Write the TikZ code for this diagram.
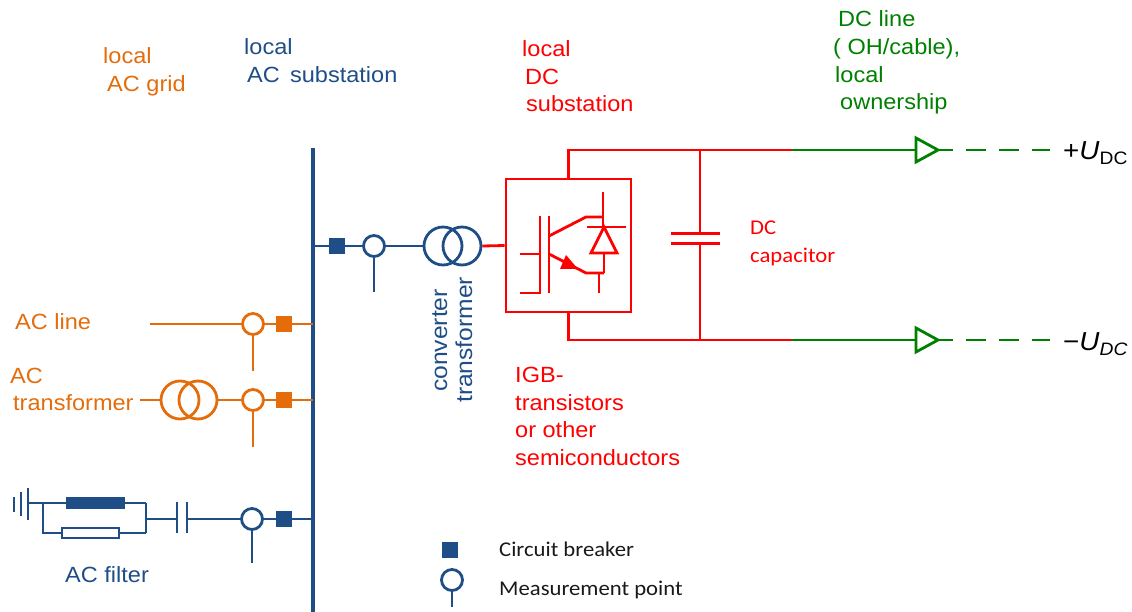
\documentclass[tikz,border=0pt]{standalone}
\usepackage{fontspec}
\setmainfont{Liberation Sans}[FakeStretch=1.07]
\newfontfamily\calfont{Carlito}[FakeStretch=1.08]
\definecolor{acblue}{RGB}{31,78,135}
\definecolor{acorange}{RGB}{228,108,10}
\definecolor{dcred}{RGB}{255,0,0}
\definecolor{dcgreen}{RGB}{0,128,0}
\begin{document}
\begin{tikzpicture}[x=1pt,y=-1pt,
  wire/.style={line width=2.8pt},
  cb/.style={rectangle, minimum size=16pt, inner sep=0pt, fill=#1, draw=none},
  meas/.style={circle, minimum size=21pt, inner sep=0pt, draw=#1, line width=2.8pt},
  trafo/.style={circle, minimum size=38pt, inner sep=0pt, draw=#1, line width=2.8pt},
  lbl/.style={inner sep=0pt, anchor=base west, font=\fontsize{22}{26}\selectfont},
  clbl/.style={inner sep=0pt, anchor=base west, font=\calfont\fontsize{21}{25}\selectfont},
  rlbl/.style={inner sep=0pt, anchor=base west, rotate=90, font=\fontsize{23}{27}\selectfont},
  ulbl/.style={inner sep=0pt, anchor=base west, font=\fontsize{26}{30}\selectfont}
]
\useasboundingbox (0,0) rectangle (1132,612);

% ---------- bus bar ----------
\coordinate (bt) at (313,148);
\coordinate (bb) at (313,612);
\draw[acblue, line width=4pt] (bt) -- (bb);

% ---------- converter branch ----------
\coordinate (b1) at (313,246);
\node[cb=acblue] (cb1) at (337,246) {};
\node[meas=acblue] (m1) at (374,246) {};
\coordinate (m1t) at (374,292);
\draw[wire, acblue] (b1) -- (cb1) -- (m1);
\draw[wire, acblue] (m1.south) -- (m1t);
\node[trafo=acblue] (t1a) at (443,246) {};
\node[trafo=acblue] (t1b) at (462,246) {};
\draw[wire, acblue] (m1) -- (t1a);

% converter box
\node[draw=dcred, wire, minimum width=125pt, minimum height=133pt, inner sep=0pt] (conv) at (568.5,245.5) {};
\draw[wire, dcred] (t1b.east) -- (conv.west);

% IGBT symbol
\begin{scope}[dcred, wire]
  \draw (520,254) -- (540,254);
  \draw (540,216) -- (540,293) -- (520,293);
  \draw (549,216) -- (549,293);
  \draw (549,236) -- (586,217) -- (603,217);
  \draw (603,192) -- (603,227);
  \draw (587,227) -- (626,227);
  \draw (604,227) -- (591,253) -- (617,253) -- cycle;
  \draw (604,253) -- (604,273);
  \draw (549,254) -- (586,273) -- (604,273);
  \draw (599,273) -- (599,293);
  \fill (566,255) -- (560,269) -- (578,269) -- cycle;
\end{scope}

% DC side
\coordinate (ptop) at (792,150);
\coordinate (pbot) at (792,340);
\coordinate (ctop) at (700,150);
\coordinate (cbot) at (700,340);
\coordinate (cp1) at (700,234);
\coordinate (cp2) at (700,244);
\draw[wire, dcred] (conv.north) |- (ptop);
\draw[wire, dcred] (conv.south) |- (pbot);
\draw[wire, dcred] (ctop) -- (cp1);
\draw[wire, dcred] (cp2) -- (cbot);
\draw[dcred, line width=3pt] (671,234) -- (720,234);
\draw[dcred, line width=3pt] (671,244) -- (720,244);

% DC line
\coordinate (g1) at (916,150);
\coordinate (g1t) at (938,150);
\coordinate (g1e) at (1050,150);
\coordinate (g2) at (916,340);
\coordinate (g2t) at (938,340);
\coordinate (g2e) at (1050,340);
\draw[wire, dcgreen] (ptop) -- (g1);
\draw[wire, dcgreen] (pbot) -- (g2);
\draw[wire, dcgreen] (916,138) -- (g1t) -- (916,162) -- cycle;
\draw[wire, dcgreen] (916,328) -- (g2t) -- (916,352) -- cycle;
\draw[wire, dcgreen, dash pattern=on 20pt off 13pt, dash phase=5pt] (g1t) -- (g1e);
\draw[wire, dcgreen, dash pattern=on 20pt off 13pt, dash phase=5pt] (g2t) -- (g2e);

% ---------- AC line ----------
\coordinate (acl) at (150,324);
\coordinate (b2) at (313,324);
\node[meas=acorange] (m2) at (253,324) {};
\node[cb=acorange] (cb2) at (284,324) {};
\coordinate (m2t) at (253,371);
\draw[wire, acorange] (acl) -- (m2) -- (cb2) -- (b2);
\draw[wire, acorange] (m2.south) -- (m2t);

% ---------- AC transformer ----------
\coordinate (act) at (140,400);
\coordinate (b3) at (313,400);
\node[trafo=acorange] (t2a) at (180,400) {};
\node[trafo=acorange] (t2b) at (198,400) {};
\node[meas=acorange] (m3) at (253,400) {};
\node[cb=acorange] (cb3) at (284,400) {};
\coordinate (m3t) at (253,447);
\draw[wire, acorange] (act) -- (t2a);
\draw[wire, acorange] (t2b) -- (m3) -- (cb3) -- (b3);
\draw[wire, acorange] (m3.south) -- (m3t);

% ---------- AC filter ----------
\coordinate (b4) at (313,519);
\node[meas=acblue] (m4) at (252,519) {};
\node[cb=acblue] (cb4) at (284,519) {};
\coordinate (m4t) at (252,563);
\coordinate (fc1) at (177,519);
\coordinate (fc2) at (187,519);
\coordinate (fj) at (146,519);
\draw[wire, acblue] (fc2) -- (m4) -- (cb4) -- (b4);
\draw[wire, acblue] (m4.south) -- (m4t);
\draw[wire, acblue] (177,502) -- (177,533);
\draw[wire, acblue] (187,502) -- (187,533);
\draw[wire, acblue] (fc1) -- (fj);
\draw[wire, acblue] (146,503) -- (146,533);
\node[rectangle, fill=acblue, minimum width=59pt, minimum height=12pt, inner sep=0pt] (ind) at (95.5,503) {};
\node[rectangle, draw=acblue, fill=white, line width=2.2pt, minimum width=57pt, minimum height=10pt, inner sep=0pt] (res) at (90.5,533) {};
\coordinate (gnd) at (28,503);
\draw[wire, acblue] (146,503) -- (ind);
\draw[wire, acblue] (ind) -- (gnd);
\draw[wire, acblue] (43,503) -- (43,533) -- (res);
\draw[wire, acblue] (res) -- (146,533);
\draw[wire, acblue] (28,488) -- (28,520);
\draw[wire, acblue] (21,492) -- (21,516);
\draw[wire, acblue] (14,497) -- (14,512);

% ---------- legend ----------
\node[cb=acblue] (lcb) at (450,550) {};
\node[meas=acblue] (lm) at (452,580) {};
\coordinate (lmt) at (452,607);
\draw[wire, acblue] (lm.south) -- (lmt);
\node[clbl, text=black!90] (tcb) at (499,556) {Circuit breaker};
\node[clbl, text=black!90] (tmp) at (499,595) {Measurement point};

% ---------- labels ----------
\node[lbl, text=acorange] (lg1) at (103,64) {local};
\node[lbl, text=acorange] (lg2) at (107,92) {AC grid};
\node[lbl, text=acblue] (ls1) at (244,55) {local};
\node[lbl, text=acblue] (ls2) at (247,83) {AC\, substation};
\node[lbl, text=dcred] (ld1) at (522,57) {local};
\node[lbl, text=dcred] (ld2) at (525,85) {DC};
\node[lbl, text=dcred] (ld3) at (526,112) {substation};
\node[lbl, text=dcgreen] (ll1) at (838,27) {DC line};
\node[lbl, text=dcgreen] (ll2) at (833,55) {( OH/cable),};
\node[lbl, text=dcgreen] (ll3) at (835,83) {local};
\node[lbl, text=dcgreen] (ll4) at (840,110) {ownership};
\node[lbl, text=acorange] (la1) at (15,329) {AC line};
\node[lbl, text=acorange] (la2) at (10,383) {AC};
\node[lbl, text=acorange] (la3) at (13,410) {transformer};
\node[lbl, text=dcred] (li1) at (515,382) {IGB-};
\node[lbl, text=dcred] (li2) at (515,410) {transistors};
\node[lbl, text=dcred] (li3) at (515,437) {or other};
\node[lbl, text=dcred] (li4) at (515,465) {semiconductors};
\node[lbl, text=acblue] (lf) at (65,582) {AC filter};
\node[clbl, text=dcred] (lc1) at (750,235) {DC};
\node[clbl, text=dcred] (lc2) at (750,262) {capacitor};
\node[rlbl, text=acblue] (lt1) at (447,392) {converter};
\node[rlbl, text=acblue] (lt2) at (472,403) {transformer};
\node[ulbl, text=black] (up) at (1063,160) {+\textit{U}\raisebox{-5pt}{\fontsize{18}{18}\selectfont DC}};
\node[ulbl, text=black] (um) at (1063,350) {−\textit{U}\raisebox{-5pt}{\fontsize{18}{18}\selectfont\itshape DC}};
\end{tikzpicture}
\end{document}
